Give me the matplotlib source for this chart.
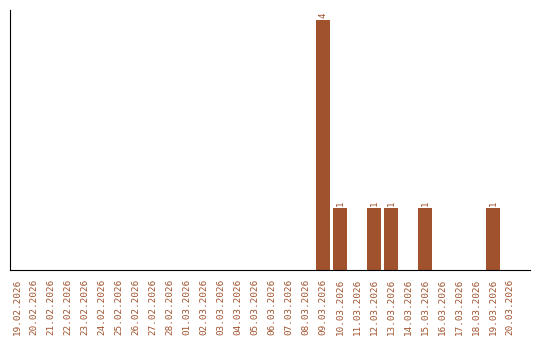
import matplotlib
matplotlib.use("Agg")
import matplotlib.pyplot as plt

dates = ["19.02.2026", "20.02.2026", "21.02.2026", "22.02.2026", "23.02.2026",
         "24.02.2026", "25.02.2026", "26.02.2026", "27.02.2026", "28.02.2026",
         "01.03.2026", "02.03.2026", "03.03.2026", "04.03.2026", "05.03.2026",
         "06.03.2026", "07.03.2026", "08.03.2026", "09.03.2026", "10.03.2026",
         "11.03.2026", "12.03.2026", "13.03.2026", "14.03.2026", "15.03.2026",
         "16.03.2026", "17.03.2026", "18.03.2026", "19.03.2026", "20.03.2026"]
counts = [0, 0, 0, 0, 0, 0, 0, 0, 0, 0,
          0, 0, 0, 0, 0, 0, 0, 0, 4, 1,
          0, 1, 1, 0, 1, 0, 0, 0, 1, 0]

color = "#A0522D"
fig = plt.figure(figsize=(5.4, 3.4), dpi=100)
ax = fig.add_axes([10/540, 70/340, 520/540, 260/340])
x = list(range(len(dates)))
ax.bar(x, counts, width=0.82, color=color)
for xi, c in zip(x, counts):
    if c > 0:
        ax.text(xi, c + 0.03, str(c), rotation=90, ha="center", va="bottom",
                color=color, fontsize=6.5, family="DejaVu Sans Mono")
ax.set_xlim(-0.41, 30.18)
ax.set_ylim(0, 4.16)
ax.set_xticks(x)
ax.set_xticklabels(dates, rotation=90, color=color, fontsize=6.7, family="DejaVu Sans Mono")
ax.tick_params(axis="x", length=0, pad=6)
ax.set_yticks([])
for s in ["top", "right"]:
    ax.spines[s].set_visible(False)
fig.savefig("out.png", dpi=100)
